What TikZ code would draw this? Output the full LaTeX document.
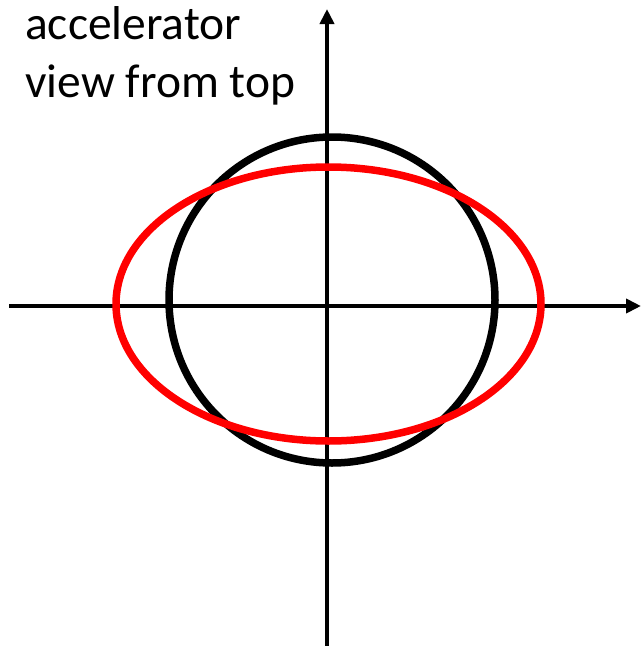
\documentclass[tikz,border=0pt]{standalone}
\usepackage{fontspec}
\setmainfont{Carlito}
\usetikzlibrary{arrows.meta}
\begin{document}
\begin{tikzpicture}[x=1pt,y=-1pt,
  axis/.style={line width=4.5pt,-{Triangle[length=15pt,width=14pt]}},
  ring/.style={line width=7.5pt},
  label/.style={inner sep=0pt,align=left,font=\fontsize{47.5}{58}\selectfont}]
\useasboundingbox (0,0) rectangle (641,646);
\coordinate (xl) at (9,306);
\coordinate (xr) at (641,306);
\coordinate (yb) at (327,646);
\coordinate (yt) at (327,9);
\draw[axis] (xl) -- (xr);
\draw[axis] (yb) -- (yt);
\draw[ring,black] (332,300) circle [radius=163];
\draw[ring,red] (328.5,304) ellipse [x radius=212.5, y radius=137];
\node[label,anchor=base west] (title) at (25,97) {accelerator\\view from top};
\end{tikzpicture}
\end{document}
